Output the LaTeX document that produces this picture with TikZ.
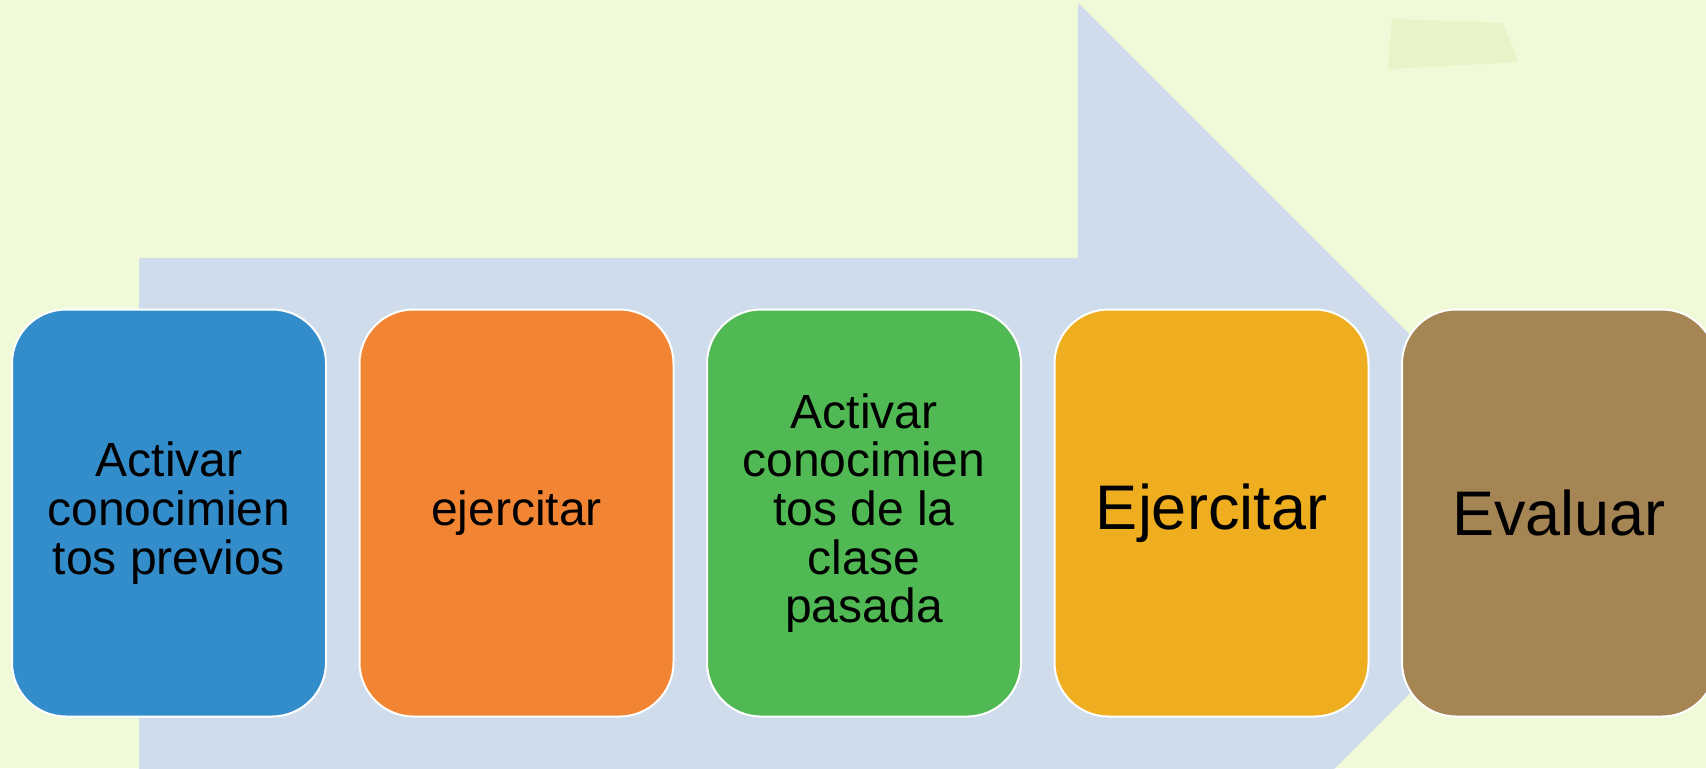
\documentclass[tikz,border=0pt]{standalone}
\usepackage{fontspec}
\setmainfont{Liberation Sans}

\definecolor{bgcol}{HTML}{F0FAD8}
\definecolor{arrowcol}{HTML}{CEDCEC}
\definecolor{smudgecol}{HTML}{E6F4C8}
\definecolor{bluecol}{HTML}{338DCB}
\definecolor{orangecol}{HTML}{F28533}
\definecolor{greencol}{HTML}{50B954}
\definecolor{yellowcol}{HTML}{EEAE1F}
\definecolor{browncol}{HTML}{A58554}

\begin{document}
\begin{tikzpicture}[x=0.5pt,y=-0.5pt]

        \clip (0,0) rectangle (1706,768);
        \fill[bgcol] (0,0) rectangle (1706,768);

        % faint mark, top right
        \fill[smudgecol] (1392,19) -- (1503,23) -- (1518,62) -- (1388,69) -- cycle;

        % big arrow behind the steps
        \fill[arrowcol] (139,258) -- (1078,258) -- (1078,3) -- (1589,514)
          -- (1078,1025) -- (1078,770) -- (139,770) -- cycle;

        \begin{scope}[every node/.style={rectangle,rounded corners=27pt,draw=white,
            line width=1pt,minimum width=157pt,minimum height=203.5pt,
            inner sep=0pt,align=center,text=black,
            font=\fontsize{24pt}{24.35pt}\selectfont}]
          \node[fill=bluecol]   (1) at (169,513)    {Activar\\conocimien\\tos previos};
          \node[fill=orangecol] (2) at (516.5,513)  {ejercitar};
          \node[fill=greencol]  (3) at (864,513)    {Activar\\conocimien\\tos de la\\clase\\pasada};
          \node[fill=yellowcol,font=\fontsize{31.5pt}{33pt}\selectfont]
                                (4) at (1211.5,513) {Ejercitar};
          \node[fill=browncol,font=\fontsize{31.5pt}{33pt}\selectfont]
                                (5) at (1559,513)   {Evaluar};
        \end{scope}

      \end{tikzpicture}
\end{document}
